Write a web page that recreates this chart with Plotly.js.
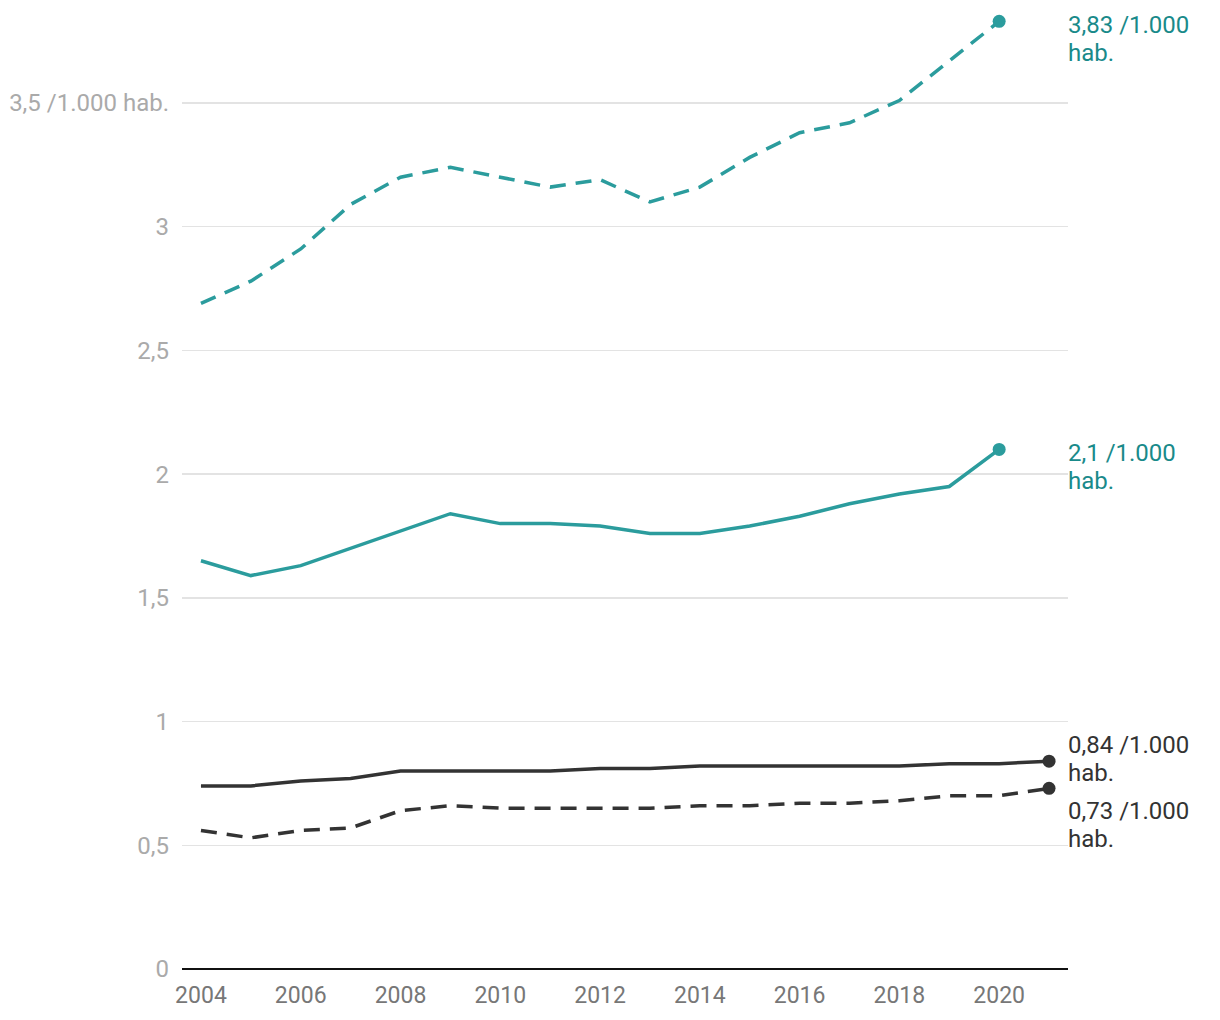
<!DOCTYPE html>
<html>
<head>
<meta charset="utf-8">
<script src="https://cdn.plot.ly/plotly-3.0.1.min.js"></script>
<style>html,body{margin:0;padding:0;background:#fff;}#chart{width:1220px;height:1020px;}</style>
</head>
<body>
<div id="chart"></div>
<script>
const years = [2004,2005,2006,2007,2008,2009,2010,2011,2012,2013,2014,2015,2016,2017,2018,2019,2020,2021];
const tealDashed = [2.69,2.78,2.91,3.09,3.20,3.24,3.20,3.16,3.19,3.10,3.16,3.28,3.38,3.42,3.51,3.67,3.83];
const tealSolid = [1.65,1.59,1.63,1.70,1.77,1.84,1.80,1.80,1.79,1.76,1.76,1.79,1.83,1.88,1.92,1.95,2.10];
const blackSolid = [0.74,0.74,0.76,0.77,0.80,0.80,0.80,0.80,0.81,0.81,0.82,0.82,0.82,0.82,0.82,0.83,0.83,0.84];
const blackDashed = [0.56,0.53,0.56,0.57,0.64,0.66,0.65,0.65,0.65,0.65,0.66,0.66,0.67,0.67,0.68,0.70,0.70,0.73];
const endLabels = ["3,83 /1.000<br>hab.","2,1 /1.000<br>hab.","0,84 /1.000<br>hab.","0,73 /1.000<br>hab."];
const yTickVals = [0,0.5,1,1.5,2,2.5,3,3.5];
const yTickText = ["0","0,5","1","1,5","2","2,5","3","3,5 /1.000 hab."];
const xTickVals = [2004,2006,2008,2010,2012,2014,2016,2018,2020];

const TEAL = "#2b9c9d", TEAL_TXT = "#198a8a", DARK = "#333333";
const series = [
  {y: tealDashed, color: TEAL, dash: "16px,10px", label: endLabels[0], txt: TEAL_TXT, shift: -4},
  {y: tealSolid, color: TEAL, dash: "solid", label: endLabels[1], txt: TEAL_TXT, shift: -4},
  {y: blackSolid, color: DARK, dash: "solid", label: endLabels[2], txt: DARK, shift: 16},
  {y: blackDashed, color: DARK, dash: "16px,10px", label: endLabels[3], txt: DARK, shift: -23}
];
const LINE_GAP = 28;
const traces = [];
const annotations = [];
series.forEach(s => {
  const xs = years.slice(0, s.y.length);
  const lastY = s.y[s.y.length-1];
  traces.push({x: xs, y: s.y, type: "scatter", mode: "lines", line: {color: s.color, width: 3.5, dash: s.dash}, hoverinfo: "skip"});
  traces.push({x: [xs[xs.length-1]], y: [lastY], type: "scatter", mode: "markers", marker: {color: s.color, size: 13}, hoverinfo: "skip"});
  s.label.split("<br>").forEach((line, i) => {
    annotations.push({xref: "paper", x: 1, xanchor: "left", xshift: -2, yref: "y", y: lastY, yanchor: "middle",
      yshift: s.shift - i * LINE_GAP, text: line, showarrow: false, align: "left",
      font: {family: "Roboto", size: 24, color: s.txt}});
  });
});

const layout = {
  width: 1220, height: 1020,
  margin: {l: 182, r: 152, t: 4, b: 51},
  paper_bgcolor: "#fff", plot_bgcolor: "#fff",
  showlegend: false,
  font: {family: "Roboto", size: 22},
  xaxis: {range: [2003.62, 2021.38], tickvals: xTickVals, showgrid: false, zeroline: false,
    showline: false, ticks: "", tickfont: {family: "Roboto", size: 23, color: "#777"}, ticklabelstandoff: 10},
  yaxis: {range: [0, 3.9], tickvals: yTickVals, ticktext: yTickText, showgrid: true, gridcolor: "#e3e3e3", gridwidth: 1.5,
    zeroline: true, zerolinecolor: "#111", zerolinewidth: 2, showline: false, ticks: "",
    tickfont: {family: "Roboto", size: 24, color: "#aaaaaa"}, ticklabelstandoff: 12},
  annotations: annotations
};
Plotly.newPlot("chart", traces, layout, {displayModeBar: false, staticPlot: true});
</script>
</body>
</html>
